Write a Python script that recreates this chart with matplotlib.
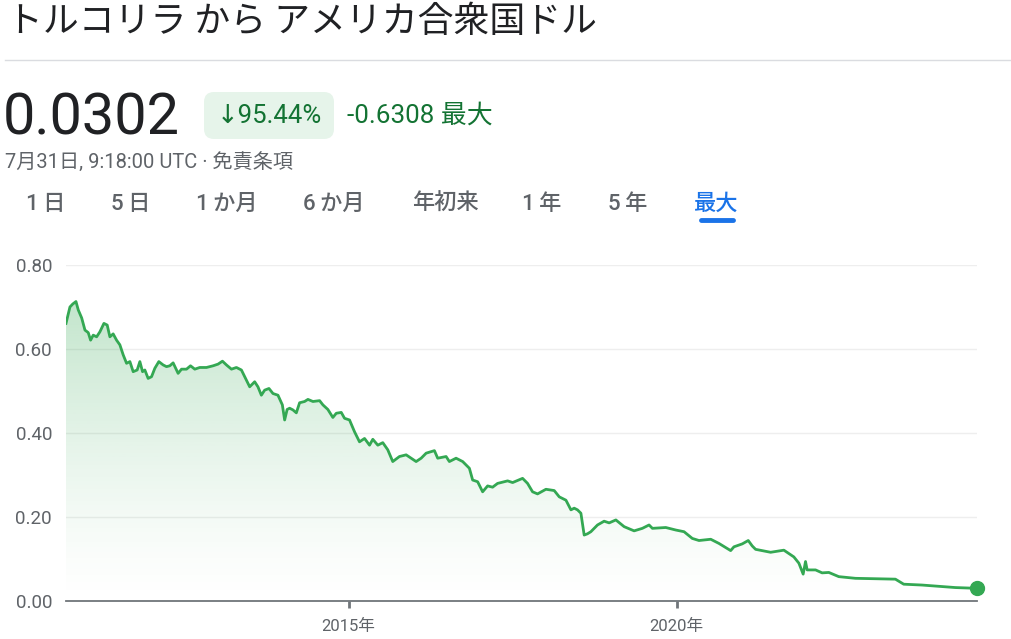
import numpy as np
import matplotlib
matplotlib.use("Agg")
import matplotlib.pyplot as plt
from matplotlib.patches import FancyBboxPatch
from matplotlib.colors import to_rgb

plt.rcParams['font.family'] = ['Roboto', 'Noto Sans CJK JP', 'DejaVu Sans']

# TRY -> USD, full history (decimal years)
years = [
    2010.693, 2010.753, 2010.795, 2010.845, 2010.880, 2010.932, 2010.982, 2011.032,
    2011.068, 2011.108, 2011.160, 2011.210, 2011.271, 2011.321, 2011.362, 2011.412,
    2011.464, 2011.514, 2011.565, 2011.616, 2011.667, 2011.717, 2011.778, 2011.819,
    2011.860, 2011.895, 2011.945, 2011.997, 2012.047, 2012.108, 2012.174, 2012.225,
    2012.275, 2012.326, 2012.402, 2012.454, 2012.530, 2012.591, 2012.656, 2012.732,
    2012.834, 2012.935, 2013.011, 2013.078, 2013.139, 2013.215, 2013.291, 2013.367,
    2013.417, 2013.493, 2013.569, 2013.619, 2013.671, 2013.721, 2013.787, 2013.848,
    2013.924, 2013.991, 2014.026, 2014.064, 2014.102, 2014.152, 2014.204, 2014.254,
    2014.330, 2014.381, 2014.457, 2014.559, 2014.609, 2014.685, 2014.761, 2014.813,
    2014.889, 2014.939, 2015.015, 2015.091, 2015.167, 2015.244, 2015.320, 2015.370,
    2015.446, 2015.522, 2015.598, 2015.674, 2015.776, 2015.878, 2015.954, 2016.030,
    2016.107, 2016.183, 2016.309, 2016.359, 2016.487, 2016.537, 2016.639, 2016.740,
    2016.842, 2016.892, 2016.968, 2017.044, 2017.120, 2017.196, 2017.272, 2017.425,
    2017.501, 2017.653, 2017.729, 2017.805, 2017.881, 2018.009, 2018.135, 2018.212,
    2018.314, 2018.390, 2018.440, 2018.490, 2018.542, 2018.592, 2018.642, 2018.694,
    2018.795, 2018.896, 2018.973, 2019.075, 2019.201, 2019.353, 2019.479, 2019.581,
    2019.632, 2019.836, 2019.988, 2020.114, 2020.240, 2020.342, 2020.521, 2020.647,
    2020.825, 2020.875, 2021.002, 2021.093, 2021.154, 2021.205, 2021.434, 2021.636,
    2021.788, 2021.865, 2021.930, 2021.966, 2021.991, 2022.119, 2022.219, 2022.321,
    2022.473, 2022.727, 2023.336, 2023.463, 2023.741, 2024.250, 2024.580,
]
rates = [
    0.661, 0.700, 0.707, 0.713, 0.693, 0.674, 0.645, 0.639,
    0.621, 0.633, 0.629, 0.641, 0.661, 0.657, 0.629, 0.636,
    0.621, 0.610, 0.586, 0.566, 0.570, 0.546, 0.550, 0.570,
    0.546, 0.550, 0.530, 0.534, 0.554, 0.570, 0.562, 0.558,
    0.560, 0.567, 0.542, 0.552, 0.552, 0.560, 0.552, 0.556,
    0.556, 0.560, 0.564, 0.571, 0.562, 0.552, 0.556, 0.550,
    0.534, 0.510, 0.522, 0.510, 0.490, 0.502, 0.506, 0.494,
    0.490, 0.467, 0.431, 0.456, 0.459, 0.455, 0.448, 0.472,
    0.475, 0.480, 0.475, 0.477, 0.467, 0.456, 0.437, 0.447,
    0.449, 0.435, 0.431, 0.403, 0.379, 0.387, 0.371, 0.385,
    0.371, 0.377, 0.360, 0.332, 0.344, 0.348, 0.340, 0.332,
    0.340, 0.352, 0.358, 0.340, 0.344, 0.332, 0.340, 0.332,
    0.316, 0.288, 0.284, 0.260, 0.274, 0.271, 0.280, 0.286,
    0.282, 0.292, 0.280, 0.260, 0.255, 0.266, 0.263, 0.248,
    0.240, 0.217, 0.221, 0.217, 0.209, 0.157, 0.160, 0.165,
    0.181, 0.190, 0.186, 0.193, 0.177, 0.167, 0.173, 0.181,
    0.173, 0.175, 0.169, 0.165, 0.149, 0.144, 0.147, 0.137,
    0.120, 0.129, 0.136, 0.144, 0.131, 0.123, 0.116, 0.121,
    0.105, 0.090, 0.064, 0.094, 0.074, 0.074, 0.067, 0.068,
    0.058, 0.054, 0.052, 0.040, 0.038, 0.032, 0.0302,
]

ytick_vals = [0.0, 0.2, 0.4, 0.6, 0.8]
ytick_labels = ["0.00", "0.20", "0.40", "0.60", "0.80"]
xtick_vals = [2015, 2020]
xtick_labels = ["2015年", "2020年"]

title = "トルコリラ から アメリカ合衆国ドル"
price = "0.0302"
pct_change = "↓95.44%"
abs_change = "-0.6308 最大"
timestamp = "7月31日, 9:18:00 UTC · 免責条項"
tabs = ["1\u2009日", "5\u2009日", "1\u2009か月", "6\u2009か月", "年初来", "1\u2009年", "5\u2009年", "最大"]
tab_x = [46, 131, 227, 334, 445, 542, 628, 716]

GREEN = "#34a853"
DARK_GREEN = "#137333"
GRAY = "#5f6368"

W, H = 1011, 639
fig = plt.figure(figsize=(W / 100, H / 100), dpi=100)

# header drawn in pixel coordinates
hdr = fig.add_axes([0, 0, 1, 1])
hdr.set_xlim(0, W)
hdr.set_ylim(H, 0)
hdr.axis("off")

cjk = ['Noto Sans CJK JP', 'DejaVu Sans']
hdr.text(7, 22, title, fontsize=25.8, family=cjk, color="#202124", va="center", ha="left")
hdr.plot([5, W], [60, 60], color="#dadce0", lw=1)
hdr.text(3, 119, price, fontsize=41.5, color="#202124", va="center", ha="left")
hdr.add_patch(FancyBboxPatch((204, 92), 130, 47, boxstyle="round,pad=0,rounding_size=10",
                             fc="#e6f4ea", ec="none"))
hdr.text(269, 116, pct_change, fontsize=18.5, color=DARK_GREEN, va="center", ha="center",
         family=['Roboto', 'DejaVu Sans'])
hdr.text(347, 116, abs_change, fontsize=18.7, color=DARK_GREEN, va="center", ha="left")
hdr.text(5, 162, timestamp, fontsize=14.5, color=GRAY, va="center", ha="left")
for i, t in enumerate(tabs):
    col = "#1a73e8" if t == "最大" else GRAY
    hdr.text(tab_x[i], 204, t, fontsize=16, color=col, va="center", ha="center",
             fontweight="medium")
hdr.plot([701, 733], [220, 220], color="#1a73e8", lw=3.5, solid_capstyle="round")

# chart
left, right, top, bottom = 66, 977, 265, 601
ax = fig.add_axes([left / W, 1 - bottom / H, (right - left) / W, (bottom - top) / H])
ax.set_facecolor("none")
x0, x1 = years[0], years[-1]
ax.set_xlim(x0, x1)
ax.set_ylim(0, 0.8)

# gradient fill under the curve
g = np.linspace(0, 1, 256).reshape(-1, 1)
rgba = np.zeros((256, 1, 4))
rgba[..., :3] = to_rgb(GREEN)
rgba[..., 3] = 0.30 * g[::-1] ** 1.3
img = ax.imshow(rgba, extent=[x0, x1, 0, 0.72], aspect="auto", origin="upper", zorder=1)
poly = ax.fill_between(years, rates, 0, color="none", lw=0)
img.set_clip_path(poly.get_paths()[0], transform=ax.transData)

ax.plot(years, rates, color=GREEN, lw=2.0, zorder=3, solid_joinstyle="round")
ax.plot([years[-1]], [rates[-1]], "o", color=GREEN, ms=10, zorder=4, clip_on=False)

for s in ["top", "right", "left"]:
    ax.spines[s].set_visible(False)
ax.spines["bottom"].set_color("#70757a")
ax.spines["bottom"].set_linewidth(1.3)

ax.set_yticks(ytick_vals)
ax.set_yticklabels(ytick_labels)
ax.set_xticks(xtick_vals)
ax.set_xticklabels(xtick_labels)
ax.tick_params(axis="y", length=0, pad=10, labelsize=13.5, labelcolor=GRAY)
ax.tick_params(axis="x", length=5, width=2, color="#70757a", pad=8,
               labelsize=12, labelcolor=GRAY)
for yv in ytick_vals[1:]:
    ax.axhline(yv, color="#eeeeee", lw=1, zorder=0)

fig.savefig("out.png", dpi=100)
